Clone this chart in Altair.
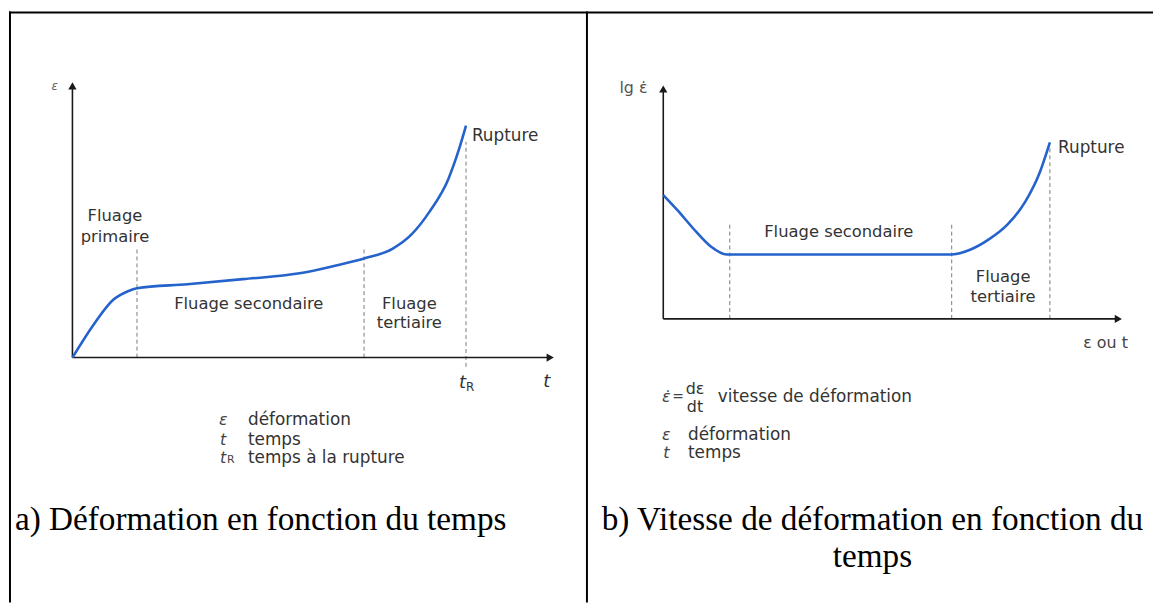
import altair as alt
import pandas as pd

# ---------------- data ----------------
# panel a : strain vs time (t normalised by t_R, strain normalised by rupture strain)
t_a = [0.0, 0.055, 0.103, 0.141, 0.164, 0.292, 0.433, 0.577, 0.670, 0.741,
       0.814, 0.861, 0.907, 0.955, 0.982, 1.0]
eps_a = [0.0, 0.145, 0.248, 0.286, 0.299, 0.316, 0.338, 0.363, 0.397, 0.427,
         0.470, 0.530, 0.628, 0.769, 0.897, 1.0]

# panel b : log strain rate vs time
t_b = [0.0, 0.036, 0.085, 0.123, 0.164, 0.746, 0.795, 0.841, 0.890, 0.936, 0.974, 1.0]
rate_b = [0.702, 0.618, 0.494, 0.410, 0.365, 0.365, 0.393, 0.449, 0.534, 0.663, 0.831, 1.0]

# stage boundaries (dashed guides)
guides_a_t = [0.164, 0.741, 1.0]
guides_a_lo = [0.0, 0.0, -0.04]
guides_a_hi = [0.466, 0.466, 0.93]

guides_b_t = [0.172, 0.746, 1.0]
guides_b_lo = [0.0, 0.0, 0.0]
guides_b_hi = [0.54, 0.55, 0.98]

W_A, W_B, H = 583, 571, 596
xa = alt.Scale(domain=[-0.1612, 1.3073], nice=False, zero=False)
ya = alt.Scale(domain=[-1.0556, 1.4915], nice=False, zero=False)
xb = alt.Scale(domain=[-0.1974, 1.2667], nice=False, zero=False)
yb = alt.Scale(domain=[-1.6067, 1.7416], nice=False, zero=False)

SANS = "DejaVu Sans"
SERIF = "Liberation Serif"
BLUE = "#2462cc"
AX = "#1a1a1a"
CAP = 33.5


def text_layer(rows, xs, ys, **kw):
    df = pd.DataFrame(rows, columns=["t", "v", "label"])
    return alt.Chart(df).mark_text(**kw).encode(
        x=alt.X("t:Q", scale=xs, axis=None),
        y=alt.Y("v:Q", scale=ys, axis=None),
        text="label:N",
    )


def panel(t, v, gt, glo, ghi, xs, ys, x_end, y_end, width, border_left, divider):
    curve = alt.Chart(pd.DataFrame({"t": t, "v": v})).mark_line(
        interpolate="monotone", color=BLUE, strokeWidth=2.6
    ).encode(x=alt.X("t:Q", scale=xs, axis=None), y=alt.Y("v:Q", scale=ys, axis=None))

    guides = alt.Chart(pd.DataFrame({"t": gt, "lo": glo, "hi": ghi})).mark_rule(
        color="#7a7a7a", strokeWidth=1, strokeDash=[4, 3]
    ).encode(x=alt.X("t:Q", scale=xs, axis=None), y=alt.Y("lo:Q", scale=ys, axis=None), y2="hi:Q")

    axes_df = pd.DataFrame({"t": [0.0, 0.0], "v": [0.0, 0.0], "t2": [x_end, 0.0], "v2": [0.0, y_end]})
    axes = alt.Chart(axes_df).mark_rule(color=AX, strokeWidth=1.6).encode(
        x=alt.X("t:Q", scale=xs, axis=None), y=alt.Y("v:Q", scale=ys, axis=None), x2="t2:Q", y2="v2:Q"
    )
    heads_df = pd.DataFrame({"t": [x_end, 0.0], "v": [0.0, y_end], "shape": ["triangle-right", "triangle-up"]})
    heads = alt.Chart(heads_df).mark_point(filled=True, color=AX, size=70, opacity=1).encode(
        x=alt.X("t:Q", scale=xs, axis=None), y=alt.Y("v:Q", scale=ys, axis=None),
        shape=alt.Shape("shape:N", scale=None, legend=None),
    )

    layers = [guides, axes, heads, curve]
    top = alt.Chart(pd.DataFrame({"k": [0]})).mark_rule(color="black", strokeWidth=2).encode(
        x=alt.value(0), x2=alt.value(width), y=alt.value(1)
    )
    layers.append(top)
    if border_left:
        left = alt.Chart(pd.DataFrame({"k": [0]})).mark_rule(color="black", strokeWidth=2).encode(
            x=alt.value(1), y=alt.value(0), y2=alt.value(H)
        )
        layers.append(left)
    if divider:
        mid = alt.Chart(pd.DataFrame({"k": [0]})).mark_rule(color="black", strokeWidth=2).encode(
            x=alt.value(width), y=alt.value(0), y2=alt.value(H)
        )
        layers.append(mid)
    return layers


# ---------- panel a ----------
la = panel(t_a, eps_a, guides_a_t, guides_a_lo, guides_a_hi, xa, ya, 1.214, 1.171, W_A, True, True)
la += [
    text_layer([(0.108, 0.611, "Fluage"), (0.108, 0.521, "primaire"),
                (0.448, 0.231, "Fluage secondaire"),
                (0.856, 0.232, "Fluage"), (0.856, 0.148, "tertiaire")],
               xa, ya, font=SANS, fontSize=16.5, color="#333", align="center", baseline="middle"),
    text_layer([(1.015, 0.957, "Rupture")], xa, ya, font=SANS, fontSize=17, color="#333",
               align="left", baseline="middle"),
    text_layer([(-0.045, 1.171, "ε")], xa, ya, font=SANS, fontSize=12, color="#666",
               align="center", baseline="middle", fontStyle="italic"),
    text_layer([(1.0, -0.111, "t"), (1.214, -0.107, "t")], xa, ya, font=SANS, fontSize=18, color="#333",
               align="right", baseline="middle", fontStyle="italic"),
    text_layer([(1.0, -0.125, "R")], xa, ya, font=SANS, fontSize=12, color="#333",
               align="left", baseline="middle"),
    text_layer([(0.383, -0.269, "ε"), (0.383, -0.355, "t"), (0.383, -0.432, "t")],
               xa, ya, font=SANS, fontSize=16, color="#444", align="center", baseline="middle",
               fontStyle="italic"),
    text_layer([(0.393, -0.442, "R")], xa, ya, font=SANS, fontSize=11, color="#444",
               align="left", baseline="middle"),
    text_layer([(0.446, -0.269, "déformation"), (0.446, -0.355, "temps"),
                (0.446, -0.432, "temps à la rupture")],
               xa, ya, font=SANS, fontSize=17, color="#333", align="left", baseline="middle"),
    text_layer([(-0.146, -0.744, "a) Déformation en fonction du temps")], xa, ya,
               font=SERIF, fontSize=CAP, color="black", align="left", baseline="alphabetic"),
]
pa = alt.layer(*la).properties(width=W_A, height=H)

# ---------- panel b ----------
lb = panel(t_b, rate_b, guides_b_t, guides_b_lo, guides_b_hi, xb, yb, 1.177, 1.303, W_B, False, False)
lb += [
    text_layer([(0.454, 0.494, "Fluage secondaire"),
                (0.879, 0.236, "Fluage"), (0.879, 0.125, "tertiaire")],
               xb, yb, font=SANS, fontSize=16.5, color="#333", align="center", baseline="middle"),
    text_layer([(1.021, 0.966, "Rupture")], xb, yb, font=SANS, fontSize=17, color="#333",
               align="left", baseline="middle"),
    text_layer([(-0.077, 1.309, "lg ε̇")], xb, yb, font=SANS, fontSize=16, color="#555",
               align="center", baseline="middle"),
    text_layer([(1.144, -0.135, "ε ou t")], xb, yb, font=SANS, fontSize=16, color="#444",
               align="center", baseline="middle"),
    text_layer([(0.008, -0.444, "ε̇"), (0.008, -0.657, "ε"), (0.008, -0.758, "t")],
               xb, yb, font=SANS, fontSize=16, color="#444", align="center", baseline="middle",
               fontStyle="italic"),
    text_layer([(0.038, -0.444, "=")], xb, yb, font=SANS, fontSize=14, color="#444",
               align="center", baseline="middle"),
    text_layer([(0.082, -0.399, "dε"), (0.082, -0.500, "dt")], xb, yb, font=SANS, fontSize=16,
               color="#333", align="center", baseline="middle"),
    text_layer([(0.141, -0.444, "vitesse de déformation"), (0.064, -0.657, "déformation"),
                (0.064, -0.758, "temps")],
               xb, yb, font=SANS, fontSize=17, color="#333", align="left", baseline="middle"),
    text_layer([(0.541, -1.197, "b) Vitesse de déformation en fonction du"),
                (0.541, -1.404, "temps")], xb, yb,
               font=SERIF, fontSize=CAP, color="black", align="center", baseline="alphabetic"),
]
pb = alt.layer(*lb).properties(width=W_B, height=H)

chart = alt.hconcat(pa, pb, spacing=0, bounds="flush").properties(padding=0).configure_view(stroke=None)

chart.save("out.html", embed_options={"renderer": "svg", "actions": False})
